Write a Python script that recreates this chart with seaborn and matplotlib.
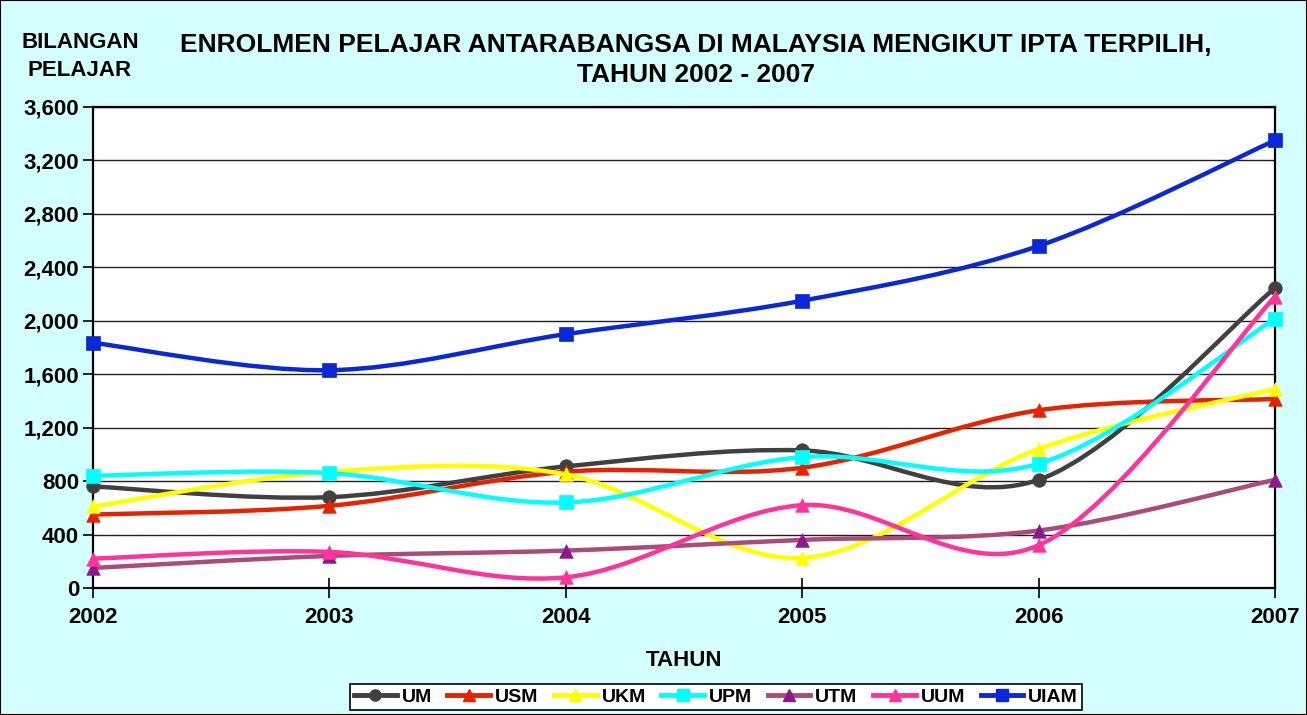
import numpy as np
import pandas as pd
import matplotlib
matplotlib.use("Agg")
import matplotlib.pyplot as plt
import seaborn as sns
from matplotlib.path import Path
from matplotlib.patches import PathPatch, Rectangle
from matplotlib.lines import Line2D

# data
years = [2002, 2003, 2004, 2005, 2006, 2007]
um = [760, 680, 910, 1030, 810, 2245]
usm = [550, 615, 870, 900, 1330, 1415]
ukm = [610, 870, 850, 225, 1040, 1490]
upm = [840, 860, 640, 980, 930, 2015]
utm = [150, 240, 280, 360, 430, 810]
uum = [220, 270, 80, 620, 320, 2180]
uiam = [1835, 1630, 1900, 2150, 2560, 3350]

series = ["UM", "USM", "UKM", "UPM", "UTM", "UUM", "UIAM"]
values = [um, usm, ukm, upm, utm, uum, uiam]
line_colors = ["#404040", "#E62200", "#FFFF00", "#00FFFF", "#A94C7A", "#FF3399", "#0A28D8"]
marker_colors = ["#404040", "#E62200", "#FFFF00", "#00FFFF", "#8A1A8A", "#FF3399", "#0A28D8"]
markers = ["o", "^", "^", "s", "^", "^", "s"]

df = pd.DataFrame({
    "Tahun": years * len(series),
    "Bilangan": sum(values, []),
    "IPTA": [s for s in series for _ in years],
})

plt.rcParams["font.family"] = ["Liberation Sans", "DejaVu Sans"]
plt.rcParams["font.weight"] = "bold"

bg = "#D4FFFF"
fig = plt.figure(figsize=(13.07, 7.15), dpi=100, facecolor=bg)
ax = fig.add_axes([93 / 1307, 1 - 588 / 715, (1275 - 93) / 1307, (588 - 107) / 715])
ax.set_facecolor("white")


def smooth_path(xs, ys):
    # Excel style smoothed line: cubic bezier through every point
    pts = np.column_stack([xs, ys]).astype(float)
    n = len(pts)
    verts = [pts[0]]
    codes = [Path.MOVETO]
    for i in range(n - 1):
        prev = pts[i - 1] if i > 0 else pts[i]
        nxt = pts[i + 2] if i + 2 < n else pts[i + 1]
        c1 = pts[i] + (pts[i + 1] - prev) / 6
        c2 = pts[i + 1] - (nxt - pts[i]) / 6
        verts += [c1, c2, pts[i + 1]]
        codes += [Path.CURVE4] * 3
    return Path(verts, codes)


for i, name in enumerate(series):
    sub = df[df["IPTA"] == name]
    patch = PathPatch(smooth_path(sub["Tahun"], sub["Bilangan"]), facecolor="none",
                      edgecolor=line_colors[i], lw=3.2, zorder=3 + i, capstyle="round",
                      joinstyle="round")
    ax.add_patch(patch)
    sns.scatterplot(data=sub, x="Tahun", y="Bilangan", marker=markers[i], s=95,
                    color=marker_colors[i], edgecolor=marker_colors[i], linewidth=0.5,
                    ax=ax, zorder=3.5 + i, clip_on=False, legend=False)

ax.set_xlim(2002, 2007)
ax.set_ylim(0, 3600)
ax.set_yticks(np.arange(0, 3601, 400))
ax.set_yticklabels([f"{v:,}" for v in range(0, 3601, 400)])
ax.set_xticks(years)
ax.set_xticklabels([str(y) for y in years])
ax.yaxis.grid(True, color="#202020", lw=1.0)
ax.set_axisbelow(True)
for sp in ax.spines.values():
    sp.set_color("black")
    sp.set_linewidth(1.6)
ax.tick_params(axis="y", direction="out", length=7, width=1.2, labelsize=16, pad=3)
ax.tick_params(axis="x", direction="inout", length=14, width=1.2, labelsize=16, pad=7)
for lab in ax.get_xticklabels() + ax.get_yticklabels():
    lab.set_fontweight("bold")
ax.set_xlabel("")
ax.set_ylabel("")

fig.text(696 / 1307, 1 - 45 / 715, "ENROLMEN PELAJAR ANTARABANGSA DI MALAYSIA MENGIKUT IPTA TERPILIH,",
         ha="center", va="center", fontsize=19, fontweight="bold")
fig.text(696 / 1307, 1 - 75 / 715, "TAHUN 2002 - 2007",
         ha="center", va="center", fontsize=19, fontweight="bold")
fig.text(80 / 1307, 1 - 43 / 715, "BILANGAN", ha="center", va="center", fontsize=16, fontweight="bold")
fig.text(80 / 1307, 1 - 70 / 715, "PELAJAR", ha="center", va="center", fontsize=16, fontweight="bold")
fig.text(684 / 1307, 1 - 660 / 715, "TAHUN", ha="center", va="center", fontsize=16, fontweight="bold")

handles = [Line2D([], [], color=line_colors[i], lw=3.5, marker=markers[i], markersize=8,
                  markerfacecolor=marker_colors[i], markeredgecolor=marker_colors[i])
           for i in range(len(series))]
leg = fig.legend(handles, series, loc="center", bbox_to_anchor=(716 / 1307, 1 - 697 / 715),
                 ncol=7, frameon=True, fancybox=False, edgecolor="black", framealpha=1,
                 fontsize=14, handlelength=2.2, handletextpad=0.25, columnspacing=0.8,
                 borderpad=0.2)
leg.get_frame().set_linewidth(1.2)
for t in leg.get_texts():
    t.set_fontweight("bold")

fig.patches.append(Rectangle((0, 0), 1, 1, transform=fig.transFigure, fill=False,
                             edgecolor="black", lw=1.5))

fig.savefig("out.png", dpi=100, facecolor=bg)
